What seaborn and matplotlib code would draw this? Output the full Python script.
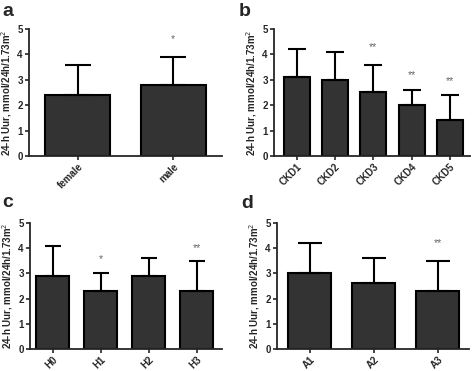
import matplotlib
matplotlib.use("Agg")
import matplotlib.pyplot as plt
import seaborn as sns
import numpy as np
import pandas as pd

sns.set_style("ticks")
plt.rcParams['font.family'] = ['Liberation Sans', 'DejaVu Sans']

# ---- data ----
sex_cats = ["female", "male"]
sex_mean = [2.4, 2.8]
sex_sd = [1.2, 1.1]
sex_sig = ["", "*"]
sex_sig_y = [0, 4.6]

ckd_cats = ["CKD1", "CKD2", "CKD3", "CKD4", "CKD5"]
ckd_mean = [3.1, 3.0, 2.5, 2.0, 1.4]
ckd_sd = [1.1, 1.1, 1.1, 0.6, 1.0]
ckd_sig = ["", "", "**", "**", "**"]
ckd_sig_y = [0, 0, 4.3, 3.2, 2.95]

h_cats = ["H0", "H1", "H2", "H3"]
h_mean = [2.9, 2.3, 2.9, 2.3]
h_sd = [1.2, 0.7, 0.7, 1.2]
h_sig = ["", "*", "", "**"]
h_sig_y = [0, 3.58, 0, 4.0]

a_cats = ["A1", "A2", "A3"]
a_mean = [3.0, 2.6, 2.3]
a_sd = [1.2, 1.0, 1.2]
a_sig = ["", "", "**"]
a_sig_y = [0, 0, 4.2]

ylabel = "24-h Uur, mmol/24h/1.73m$^{2}$"

W, H = 472, 371
fig = plt.figure(figsize=(W / 100, H / 100), dpi=100)

def add_ax(l, r, t, b):
    return fig.add_axes([l / W, 1 - b / H, (r - l) / W, (b - t) / H])

def panel(ax, cats, mean, sd, sig, sig_y, xlim, capsize):
    df = pd.DataFrame({"cat": cats, "val": mean})
    sns.barplot(data=df, x="cat", y="val", ax=ax, color="#333333",
                saturation=1, edgecolor="black", linewidth=1.5, width=0.68)
    x = np.arange(len(cats))
    ax.errorbar(x, mean, yerr=[np.zeros(len(cats)), sd], fmt="none",
                ecolor="black", elinewidth=1.5, capsize=capsize, capthick=1.5,
                zorder=1)
    for xi, s, sy in zip(x, sig, sig_y):
        if s:
            ax.text(xi, sy, s, ha="center", va="center", fontsize=7.5,
                    color="#666666")
    ax.set_xlim(*xlim)
    ax.set_ylim(0, 5)
    ax.set_yticks([0, 1, 2, 3, 4, 5])
    ax.set_xlabel("")
    ax.set_ylabel(ylabel, fontsize=7, fontweight="bold", labelpad=2)
    sns.despine(ax=ax)
    ax.spines["left"].set_linewidth(1.3)
    ax.spines["bottom"].set_linewidth(1.3)
    ax.tick_params(axis="both", length=3, width=1.2, pad=1.5, labelsize=7)
    ax.tick_params(axis="x", pad=1)
    for lab in ax.get_yticklabels():
        lab.set_fontweight("bold")
    ax.set_xticks(x)
    ax.set_xticklabels(cats, rotation=45, ha="right", rotation_mode="anchor",
                       fontsize=7, fontweight="bold")

ax1 = add_ax(29, 222, 29, 156)
panel(ax1, sex_cats, sex_mean, sex_sd, sex_sig, sex_sig_y, (-0.51, 1.51), 9.3)
ax2 = add_ax(274, 470, 29, 156)
panel(ax2, ckd_cats, ckd_mean, ckd_sd, ckd_sig, ckd_sig_y, (-0.6, 4.53), 6.8)
ax3 = add_ax(30, 222, 223, 349)
panel(ax3, h_cats, h_mean, h_sd, h_sig, h_sig_y, (-0.47, 3.53), 6)
ax4 = add_ax(277, 469, 223, 349)
panel(ax4, a_cats, a_mean, a_sd, a_sig, a_sig_y, (-0.51, 2.49), 8.4)

for lbl, x, y in [("a", 2, 16), ("b", 239, 16), ("c", 2, 207), ("d", 241, 208)]:
    fig.text(x / W, 1 - y / H, lbl, fontsize=14, fontweight="bold",
             ha="left", va="baseline")

fig.savefig("out.png", dpi=100)
